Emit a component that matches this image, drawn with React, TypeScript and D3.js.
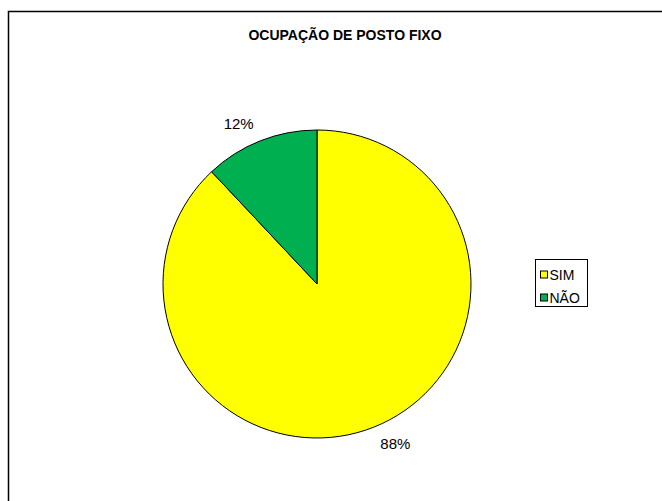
import { useEffect, useRef } from "react";
import * as d3 from "d3";

const categories = ["SIM", "NÃO"];
const values = [88, 12];
const colors = ["#FFFF00", "#00B050"];
const title = "OCUPAÇÃO DE POSTO FIXO";

interface Slice {
  label: string;
  value: number;
  color: string;
}

export default function App() {
  const ref = useRef<SVGSVGElement | null>(null);

  useEffect(() => {
    const width = 662;
    const height = 501;
    const cx = 317;
    const cy = 284;
    const radius = 154;
    const font = "'Liberation Sans', Arial, sans-serif";

    const svg = d3.select(ref.current);
    svg.selectAll("*").remove();
    svg.attr("width", width).attr("height", height);

    svg.append("rect").attr("width", width).attr("height", height).attr("fill", "#fff");

    // chart frame (runs past the right and bottom edges)
    svg
      .append("rect")
      .attr("x", 8.5)
      .attr("y", 11.5)
      .attr("width", width + 20)
      .attr("height", height + 20)
      .attr("fill", "none")
      .attr("stroke", "#000")
      .attr("stroke-width", 1.5);

    svg
      .append("text")
      .attr("x", 345)
      .attr("y", 40)
      .attr("text-anchor", "middle")
      .attr("font-family", font)
      .attr("font-size", 14)
      .attr("font-weight", "bold")
      .text(title);

    const data: Slice[] = categories.map((c, i) => ({
      label: c,
      value: values[i],
      color: colors[i],
    }));

    const pie = d3
      .pie<Slice>()
      .sort(null)
      .value((d) => d.value);
    const arcs = pie(data);

    const arc = d3.arc<d3.PieArcDatum<Slice>>().innerRadius(0).outerRadius(radius);
    const labelArc = d3
      .arc<d3.PieArcDatum<Slice>>()
      .innerRadius(radius + 18)
      .outerRadius(radius + 18);

    const g = svg.append("g").attr("transform", `translate(${cx}, ${cy})`);

    g.selectAll("path")
      .data(arcs)
      .enter()
      .append("path")
      .attr("d", arc)
      .attr("fill", (d) => d.data.color)
      .attr("stroke", "#000")
      .attr("stroke-width", 1);

    const total = d3.sum(values);
    g.selectAll("text.lbl")
      .data(arcs)
      .enter()
      .append("text")
      .attr("class", "lbl")
      .attr("transform", (d) => {
        const [x, y] = labelArc.centroid(d);
        return `translate(${x}, ${y})`;
      })
      .attr("dy", "0.35em")
      .attr("text-anchor", (d) => (labelArc.centroid(d)[0] < 0 ? "end" : "start"))
      .attr("font-family", font)
      .attr("font-size", 15)
      .attr("fill", "#000")
      .text((d) => `${Math.round((d.data.value / total) * 100)}%`);

    // legend
    const lg = svg.append("g").attr("transform", "translate(535.5, 259.5)");
    lg.append("rect")
      .attr("width", 52)
      .attr("height", 47)
      .attr("fill", "#fff")
      .attr("stroke", "#000")
      .attr("stroke-width", 1);

    const items = lg
      .selectAll("g.item")
      .data(data)
      .enter()
      .append("g")
      .attr("class", "item")
      .attr("transform", (_d, i) => `translate(5, ${15.5 + i * 23})`);

    items
      .append("rect")
      .attr("x", 0)
      .attr("y", -4)
      .attr("width", 7)
      .attr("height", 7)
      .attr("fill", (d) => d.color)
      .attr("stroke", "#000")
      .attr("stroke-width", 1);

    items
      .append("text")
      .attr("x", 9)
      .attr("dy", "0.36em")
      .attr("font-family", font)
      .attr("font-size", 14)
      .text((d) => d.label);
  }, []);

  return <svg ref={ref} style={{ position: "absolute", left: 0, top: 0 }}></svg>;
}
